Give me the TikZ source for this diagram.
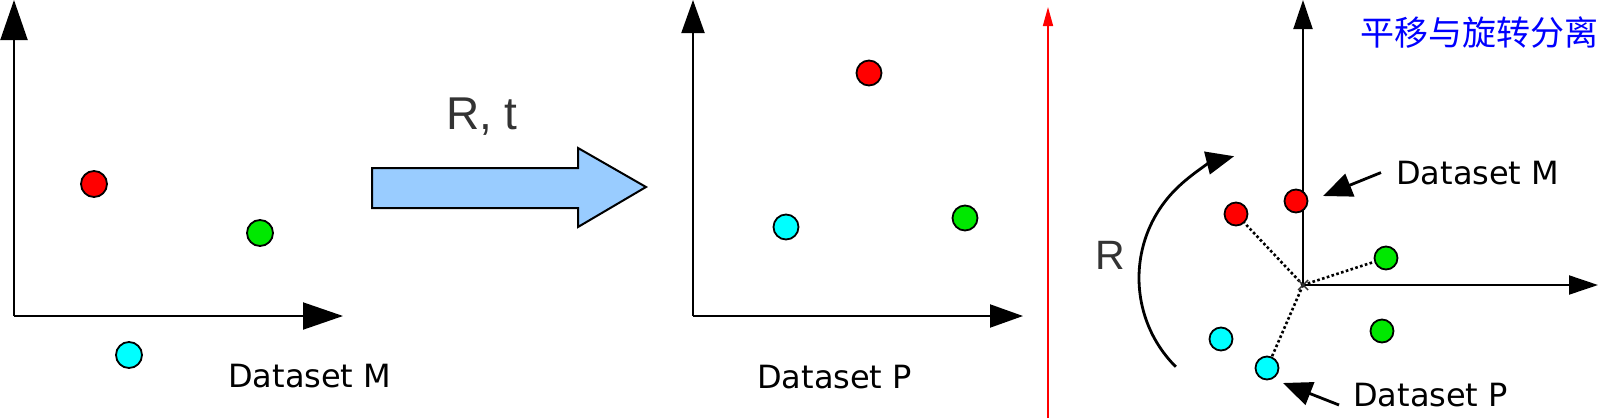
\documentclass[tikz,border=0pt]{standalone}
\usepackage{fontspec}
\setmainfont{DejaVu Sans}
\newfontfamily\arialfont{Liberation Sans}
\newfontfamily\cjkfont{Noto Sans CJK SC}
\usetikzlibrary{arrows.meta,calc}
\definecolor{ptred}{RGB}{255,0,0}
\definecolor{ptgreen}{RGB}{0,232,0}
\definecolor{ptcyan}{RGB}{0,255,255}
\definecolor{blockblue}{RGB}{153,204,255}
\definecolor{labelgray}{RGB}{51,51,51}
\begin{document}
\begin{tikzpicture}[x=1pt,y=-1pt,
  axis/.style={line width=2pt},
  axA/.style={axis,-{Triangle[length=40pt,width=27pt]}},
  axB/.style={axis,-{Triangle[length=33pt,width=23pt]}},
  axC/.style={axis,-{Triangle[length=29pt,width=19pt]}},
  dotbig/.style={circle,draw,line width=1.8pt,minimum size=26pt,inner sep=0pt},
  dotmid/.style={dotbig,minimum size=25pt},
  dotsmall/.style={dotbig,minimum size=23pt},
  dslabel/.style={inner sep=0pt,anchor=base west,font=\fontsize{32}{38}\selectfont},
  graylabel/.style={inner sep=0pt,anchor=base west,text=labelgray},
  callout/.style={line width=2.8pt,-{Triangle[length=29pt,width=24pt]}},
  dotline/.style={line width=2.6pt,dash pattern=on 2.6pt off 2.4pt},
]
\useasboundingbox (0,0) rectangle (1606,418);
\fill[white] (0,0) rectangle (1606,418);

% ---------- Panel 1: Dataset M ----------
\coordinate (o1) at (14,316);
\coordinate (y1) at (14,0);
\coordinate (x1) at (343,316);
\draw[axA] (o1) -- (y1);
\draw[axA] (o1) -- (x1);
\node[dotbig,fill=ptred] (m1r) at (94,184) {};
\node[dotbig,fill=ptgreen] (m1g) at (260,233) {};
\node[dotbig,fill=ptcyan] (m1c) at (129,355) {};
\node[dslabel] (lblM) at (228,387) {Dataset M};

% ---------- Block arrow ----------
\draw[line width=2pt,fill=blockblue,line join=miter]
  (372,168) -- (578,168) -- (578,148) -- (646,187) -- (578,227) -- (578,208) -- (372,208) -- cycle;
\node[graylabel,font=\arialfont\fontsize{46}{50}\selectfont] (rt) at (446,129) {R, t};

% ---------- Panel 2: Dataset P ----------
\coordinate (o2) at (693,316);
\coordinate (y2) at (693,0);
\coordinate (x2) at (1023,316);
\draw[axB] (o2) -- (y2);
\draw[axB] (o2) -- (x2);
\node[dotmid,fill=ptred] (p2r) at (869,73) {};
\node[dotmid,fill=ptgreen] (p2g) at (965,218) {};
\node[dotmid,fill=ptcyan] (p2c) at (786,227) {};
\node[dslabel] (lblP) at (757,388) {Dataset P};

% ---------- Red separator ----------
\coordinate (sepb) at (1048,418);
\coordinate (sept) at (1048,7);
\draw[red,line width=1.6pt,-{Triangle[length=19pt,width=10pt]}] (sepb) -- (sept);

% ---------- Panel 3 ----------
\coordinate (o3) at (1303,285);
\coordinate (y3) at (1303,0);
\coordinate (x3) at (1598,285);
\draw[axC] (o3) -- (y3);
\draw[axC] (o3) -- (x3);
\node[dotsmall,fill=ptred] (r1) at (1296,201) {};
\node[dotsmall,fill=ptred] (r2) at (1236,214) {};
\node[dotsmall,fill=ptgreen] (g1) at (1386,258) {};
\node[dotsmall,fill=ptgreen] (g2) at (1382,331) {};
\node[dotsmall,fill=ptcyan] (c1) at (1221,339) {};
\node[dotsmall,fill=ptcyan] (c2) at (1267,368) {};
\draw[dotline] (o3) -- (r2);
\draw[dotline] (o3) -- (g1);
\draw[dotline] (o3) -- (c2);
\draw[line width=1.4pt,labelgray] ($(o3)+(-5,-5)$) -- ($(o3)+(5,5)$);
\draw[line width=1.4pt,labelgray] ($(o3)+(-5,5)$) -- ($(o3)+(5,-5)$);
\coordinate (arcc) at (1264.5,278);
\draw[line width=2.8pt,-{Triangle[length=28pt,width=23pt]}]
  (arcc) ++(135:125.5) arc[start angle=135,end angle=256,radius=125.5];
\node[graylabel,font=\arialfont\fontsize{41}{46}\selectfont] (rl) at (1095,269) {R};
\node[dslabel] (lblM3) at (1396,184) {Dataset M};
\node[dslabel] (lblP3) at (1353,406) {Dataset P};
\coordinate (tipM) at (1323,196);
\coordinate (tipP) at (1283,383);
\draw[callout] ([xshift=-15pt]lblM3.west) -- (tipM);
\draw[callout] ([xshift=-14pt,yshift=1pt]lblP3.base west) -- (tipP);
\node[inner sep=0pt,anchor=base west,text=blue,font=\cjkfont\fontsize{34}{38}\selectfont] (title) at (1360,45) {平移与旋转分离};
\end{tikzpicture}
\end{document}
